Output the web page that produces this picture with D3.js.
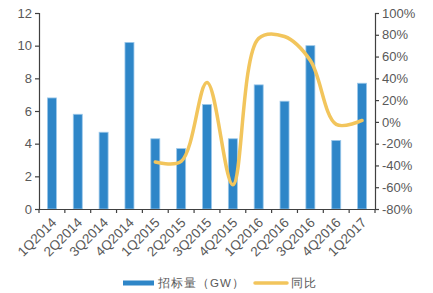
<!DOCTYPE html>
<html>
<head>
<meta charset="utf-8">
<script src="https://cdn.jsdelivr.net/npm/d3@7"></script>
<style>
  body { margin: 0; background: #fff; }
  text { font-family: "Liberation Sans", Arial, sans-serif; fill: #595959; }
</style>
</head>
<body>
<script>
// quarters
var quarters = ["1Q2014", "2Q2014", "3Q2014", "4Q2014", "1Q2015", "2Q2015", "3Q2015",
                "4Q2015", "1Q2016", "2Q2016", "3Q2016", "4Q2016", "1Q2017"];
// 招标量 (GW)
var volume = [6.8, 5.8, 4.7, 10.2, 4.3, 3.7, 6.4, 4.3, 7.6, 6.6, 10.0, 4.2, 7.7];
// 同比 (%), from 1Q2015 on
var yoyQuarters = quarters.slice(4);
var yoy = [-36.8, -36.2, 36.2, -57.8, 76.7, 78.4, 56.3, -2.3, 1.3];

var leftTicks = [0, 2, 4, 6, 8, 10, 12];
var rightTicks = [-80, -60, -40, -20, 0, 20, 40, 60, 80, 100];

var width = 433, height = 293;
var margin = { top: 13, right: 58, bottom: 84, left: 39 };

var svg = d3.select("body").append("svg")
    .attr("width", width)
    .attr("height", height);

var x = d3.scaleBand()
    .domain(quarters)
    .range([margin.left, width - margin.right]);

var yL = d3.scaleLinear().domain([0, 12]).range([height - margin.bottom, margin.top]);
var yR = d3.scaleLinear().domain([-80, 100]).range([height - margin.bottom, margin.top]);

// bars
svg.selectAll("rect.bar")
    .data(volume)
    .enter()
    .append("rect")
    .attr("class", "bar")
    .attr("x", function (d, i) { return x(quarters[i]) + x.bandwidth() / 2 - 4.5; })
    .attr("width", 9)
    .attr("y", function (d) { return yL(d); })
    .attr("height", function (d) { return yL(0) - yL(d); })
    .attr("fill", "#2E86C8")
    .attr("stroke", "#9CC8EA")
    .attr("stroke-width", 0.8);

// yoy line
var line = d3.line()
    .x(function (d, i) { return x(yoyQuarters[i]) + x.bandwidth() / 2; })
    .y(function (d) { return yR(d); })
    .curve(d3.curveCatmullRom.alpha(0.5));

svg.append("path")
    .datum(yoy)
    .attr("d", line)
    .attr("fill", "none")
    .attr("stroke", "#F2C55C")
    .attr("stroke-width", 3.5)
    .attr("stroke-linecap", "round");

// axes
var axisColor = "#404040";

var leftAxis = svg.append("g")
    .attr("transform", "translate(" + margin.left + ",0)")
    .call(d3.axisLeft(yL).tickValues(leftTicks).tickSize(4).tickPadding(3));

var rightAxis = svg.append("g")
    .attr("transform", "translate(" + (width - margin.right) + ",0)")
    .call(d3.axisRight(yR).tickValues(rightTicks).tickSize(4).tickPadding(3)
        .tickFormat(function (d) { return d + "%"; }));

var bottomAxis = svg.append("g")
    .attr("transform", "translate(0," + (height - margin.bottom) + ")")
    .call(d3.axisBottom(x).tickSize(0).tickFormat(""));

// tick marks between categories
svg.selectAll("line.xtick")
    .data(quarters.concat(["end"]))
    .enter()
    .append("line")
    .attr("class", "xtick")
    .attr("x1", function (d, i) { return margin.left + i * x.step(); })
    .attr("x2", function (d, i) { return margin.left + i * x.step(); })
    .attr("y1", height - margin.bottom)
    .attr("y2", height - margin.bottom + 4)
    .attr("stroke", axisColor)
    .attr("stroke-width", 1.2);

[leftAxis, rightAxis, bottomAxis].forEach(function (g) {
    g.select(".domain").attr("stroke", axisColor).attr("stroke-width", 1.2);
    g.selectAll(".tick line").attr("stroke", axisColor).attr("stroke-width", 1.2);
    g.selectAll("text").attr("font-size", 13).attr("fill", "#595959")
        .attr("font-family", "Liberation Sans, Arial, sans-serif");
});

// rotated category labels
svg.selectAll("text.xlabel")
    .data(quarters)
    .enter()
    .append("text")
    .attr("class", "xlabel")
    .attr("transform", function (d) {
        var cx = x(d) + x.bandwidth() / 2 + 2;
        return "translate(" + cx + "," + (height - margin.bottom + 11) + ") rotate(-45)";
    })
    .attr("text-anchor", "end")
    .attr("dy", "0.35em")
    .attr("font-size", 13.5)
    .text(function (d) { return d; });

// legend
var legendY = 283;
svg.append("rect")
    .attr("x", 123).attr("y", legendY - 2.5)
    .attr("width", 31).attr("height", 5)
    .attr("fill", "#2E86C8");
svg.append("text")
    .attr("x", 158).attr("y", legendY).attr("dy", "0.35em")
    .attr("font-size", 11.5)
    .attr("font-family", "Noto Sans CJK SC, sans-serif")
    .attr("letter-spacing", 1)
    .text("招标量（GW）");
svg.append("line")
    .attr("x1", 255).attr("x2", 287)
    .attr("y1", legendY).attr("y2", legendY)
    .attr("stroke", "#F2C55C")
    .attr("stroke-width", 3.5)
    .attr("stroke-linecap", "round");
svg.append("text")
    .attr("x", 291).attr("y", legendY).attr("dy", "0.35em")
    .attr("font-size", 11.5)
    .attr("font-family", "Noto Sans CJK SC, sans-serif")
    .attr("letter-spacing", 1)
    .text("同比");
</script>
</body>
</html>
